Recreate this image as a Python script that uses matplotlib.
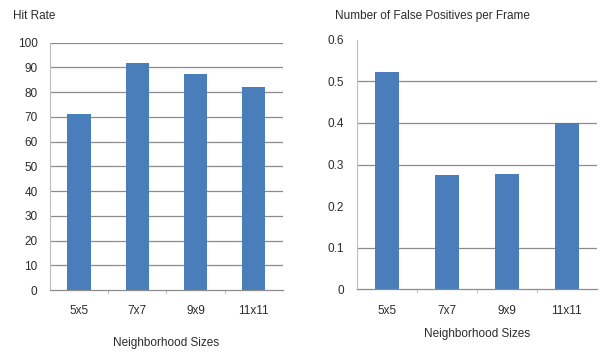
import matplotlib.pyplot as plt
import numpy as np

plt.rcParams['font.family'] = 'Liberation Sans'
plt.rcParams['font.size'] = 8.5

sizes = ['5x5', '7x7', '9x9', '11x11']
hit_rate = [71, 92, 87.3, 82.3]
false_pos = [0.522, 0.276, 0.278, 0.40]

hit_ticks = list(range(0, 101, 10))
fp_ticks = [0, 0.1, 0.2, 0.3, 0.4, 0.5, 0.6]
fp_ticklabels = ['0', '0.1', '0.2', '0.3', '0.4', '0.5', '0.6']

bar_color = '#4A7EBB'
grid_color = '#8c8c8c'
axis_color = '#bfbfbf'
text_color = '#2b2b2b'

fig = plt.figure(figsize=(6, 3.52), dpi=100)
ax1 = fig.add_axes([0.0833, 0.176, 0.388, 0.7026])
ax2 = fig.add_axes([0.5945, 0.178, 0.40, 0.709])


def style(ax, yticks, ylabels, grid_at):
    x = np.arange(len(sizes))
    ax.set_xlim(-0.5, len(sizes) - 0.5)
    ax.set_xticks(x)
    ax.set_xticklabels(sizes)
    ax.set_yticks(yticks)
    ax.set_yticklabels(ylabels)
    ax.set_ylim(yticks[0], yticks[-1])
    for y in grid_at:
        ax.axhline(y, color=grid_color, linewidth=0.9, zorder=1)
    for s in ['top', 'right']:
        ax.spines[s].set_visible(False)
    ax.spines['left'].set_color(axis_color)
    ax.spines['left'].set_linewidth(0.8)
    ax.spines['bottom'].set_color(grid_color)
    ax.spines['bottom'].set_linewidth(0.9)
    ax.tick_params(axis='y', length=0, pad=9, colors=text_color)
    ax.tick_params(axis='x', length=0, pad=11, colors=text_color)
    # small category separators along the baseline
    for b in np.arange(0.5, len(sizes) - 0.5):
        ax.plot([b, b], [0, -0.012 * yticks[-1]], color=axis_color,
                linewidth=0.8, clip_on=False)


ax1.bar(np.arange(len(sizes)), hit_rate, width=0.4, color=bar_color, zorder=2)
style(ax1, hit_ticks, [str(t) for t in hit_ticks], hit_ticks[1:])
ax1.set_xlabel('Neighborhood Sizes', labelpad=14, color=text_color)

ax2.bar(np.arange(len(sizes)), false_pos, width=0.4, color=bar_color, zorder=2)
style(ax2, fp_ticks, fp_ticklabels, [0.1, 0.3, 0.4, 0.5])
ax2.set_xlabel('Neighborhood Sizes', labelpad=8, color=text_color)

fig.text(0.022, 0.955, 'Hit Rate', ha='left', va='center', color=text_color)
fig.text(0.558, 0.955, 'Number of False Positives per Frame', ha='left',
         va='center', color=text_color)

fig.savefig('out.png', dpi=100, facecolor='white')
